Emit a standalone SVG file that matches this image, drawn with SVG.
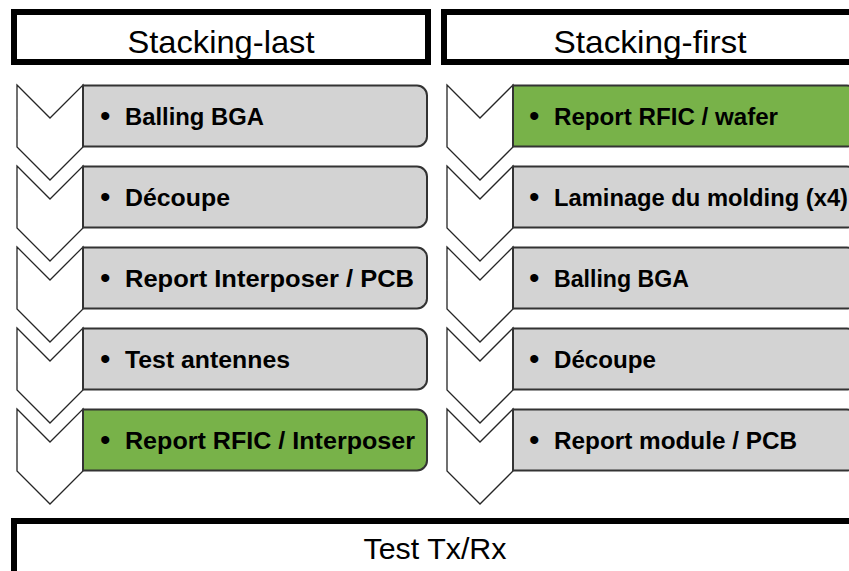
<svg xmlns="http://www.w3.org/2000/svg" width="849" height="571" viewBox="0 0 849 571">
<defs>
<style>
.hdr{fill:#fff;stroke:#000;stroke-width:6}
.htxt{font-family:"Liberation Sans",Arial,sans-serif;font-size:32px;fill:#000;text-anchor:middle}
.chev{fill:#fff;stroke:#262626;stroke-width:1.3;stroke-linejoin:miter}
.gray{fill:#d3d3d3;stroke:#333;stroke-width:2}
.green{fill:#78b249;stroke:#333;stroke-width:2}
.btxt{font-family:"Liberation Sans",Arial,sans-serif;font-weight:bold;font-size:23.5px;fill:#000}
.bul{font-family:"Liberation Sans",Arial,sans-serif;font-size:30px;fill:#000}
</style>
<path id="chevL" class="chev" d="M0,0 L33,33 L66,0 L66,62 L33,95 L0,62 Z"/>
</defs>

<g id="header-left"><rect class="hdr" x="14" y="12" width="414" height="50"/><text class="htxt" x="221" y="53" textLength="187" lengthAdjust="spacingAndGlyphs">Stacking-last</text></g>
<g id="header-right"><rect class="hdr" x="444" y="12" width="414" height="50"/><text class="htxt" x="650" y="53" textLength="193" lengthAdjust="spacingAndGlyphs">Stacking-first</text></g>

<g id="connectors">
<use href="#chevL" x="17" y="85"/>
<use href="#chevL" x="17" y="166"/>
<use href="#chevL" x="17" y="247"/>
<use href="#chevL" x="17" y="328"/>
<use href="#chevL" x="17" y="409"/>
<use href="#chevL" x="447" y="85"/>
<use href="#chevL" x="447" y="166"/>
<use href="#chevL" x="447" y="247"/>
<use href="#chevL" x="447" y="328"/>
<use href="#chevL" x="447" y="409"/>
</g>

<g id="l1"><path class="gray" d="M83,85.5 H417 A10,10 0 0 1 427,95.5 V136.5 A10,10 0 0 1 417,146.5 H83 Z"/><text class="bul" x="100" y="126">•</text><text class="btxt" x="125" y="124.5" textLength="139" lengthAdjust="spacingAndGlyphs">Balling BGA</text></g>
<g id="l2"><path class="gray" d="M83,166.5 H417 A10,10 0 0 1 427,176.5 V217.5 A10,10 0 0 1 417,227.5 H83 Z"/><text class="bul" x="100" y="207">•</text><text class="btxt" x="125" y="205.5" textLength="105" lengthAdjust="spacingAndGlyphs">Découpe</text></g>
<g id="l3"><path class="gray" d="M83,247.5 H417 A10,10 0 0 1 427,257.5 V298.5 A10,10 0 0 1 417,308.5 H83 Z"/><text class="bul" x="100" y="288">•</text><text class="btxt" x="125" y="286.5" textLength="289" lengthAdjust="spacingAndGlyphs">Report Interposer / PCB</text></g>
<g id="l4"><path class="gray" d="M83,328.5 H417 A10,10 0 0 1 427,338.5 V379.5 A10,10 0 0 1 417,389.5 H83 Z"/><text class="bul" x="100" y="369">•</text><text class="btxt" x="125" y="367.5" textLength="165" lengthAdjust="spacingAndGlyphs">Test antennes</text></g>
<g id="l5"><path class="green" d="M83,409.5 H417 A10,10 0 0 1 427,419.5 V460.5 A10,10 0 0 1 417,470.5 H83 Z"/><text class="bul" x="100" y="450">•</text><text class="btxt" x="125" y="448.5" textLength="290" lengthAdjust="spacingAndGlyphs">Report RFIC / Interposer</text></g>

<g id="r1"><path class="green" d="M513,85.5 H847 A10,10 0 0 1 857,95.5 V136.5 A10,10 0 0 1 847,146.5 H513 Z"/><text class="bul" x="529" y="126">•</text><text class="btxt" x="554" y="124.5" textLength="224" lengthAdjust="spacingAndGlyphs">Report RFIC / wafer</text></g>
<g id="r2"><path class="gray" d="M513,166.5 H847 A10,10 0 0 1 857,176.5 V217.5 A10,10 0 0 1 847,227.5 H513 Z"/><text class="bul" x="529" y="207">•</text><text class="btxt" x="554" y="205.5" textLength="294" lengthAdjust="spacingAndGlyphs">Laminage du molding (x4)</text></g>
<g id="r3"><path class="gray" d="M513,247.5 H847 A10,10 0 0 1 857,257.5 V298.5 A10,10 0 0 1 847,308.5 H513 Z"/><text class="bul" x="529" y="288">•</text><text class="btxt" x="554" y="286.5" textLength="135" lengthAdjust="spacingAndGlyphs">Balling BGA</text></g>
<g id="r4"><path class="gray" d="M513,328.5 H847 A10,10 0 0 1 857,338.5 V379.5 A10,10 0 0 1 847,389.5 H513 Z"/><text class="bul" x="529" y="369">•</text><text class="btxt" x="554" y="367.5" textLength="102" lengthAdjust="spacingAndGlyphs">Découpe</text></g>
<g id="r5"><path class="gray" d="M513,409.5 H847 A10,10 0 0 1 857,419.5 V460.5 A10,10 0 0 1 847,470.5 H513 Z"/><text class="bul" x="529" y="450">•</text><text class="btxt" x="554" y="448.5" textLength="243" lengthAdjust="spacingAndGlyphs">Report module / PCB</text></g>

<g id="test-txrx"><rect class="hdr" x="14" y="521" width="850" height="70"/><text class="htxt" x="435" y="559" font-size="29.5" style="font-size:29.5px" textLength="143" lengthAdjust="spacingAndGlyphs">Test Tx/Rx</text></g>
</svg>
